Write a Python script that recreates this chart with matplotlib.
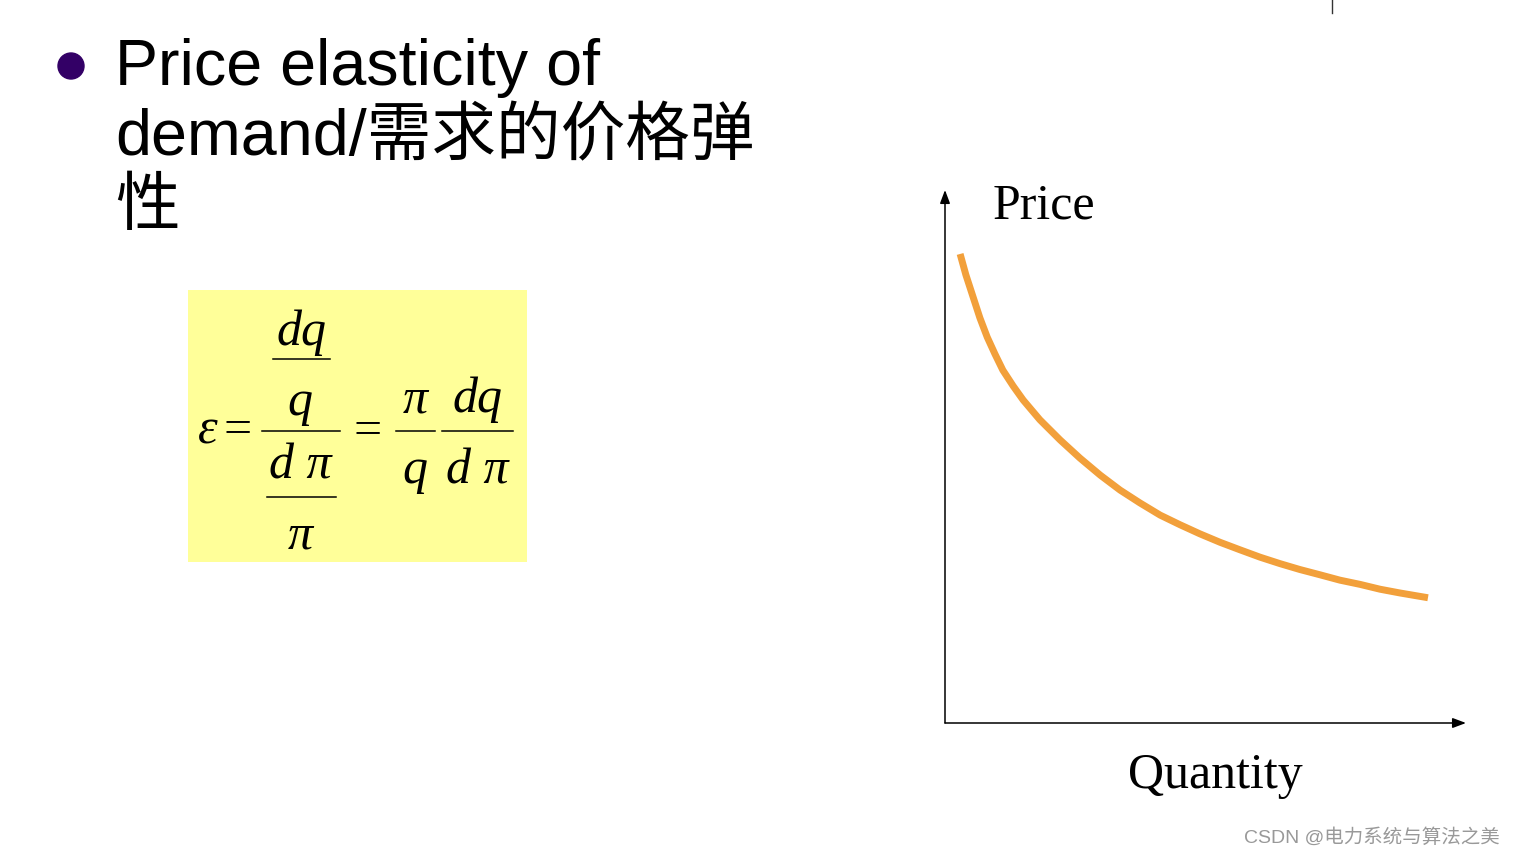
import matplotlib
matplotlib.use("Agg")
import matplotlib.pyplot as plt
from matplotlib.patches import Rectangle, Circle

# demand curve (quantity / price on a 0-100 scale)
quantity = [2.9, 4.0, 5.4, 6.7, 8.1, 9.6, 11.1, 13.1, 15.0, 18.2,
            22.1, 25.9, 29.8, 33.6, 37.4, 41.3, 45.1, 48.9, 52.8, 56.6,
            60.5, 64.3, 68.1, 72.0, 75.8, 79.7, 83.5, 87.3, 92.7]
price = [88.0, 84.1, 79.9, 76.0, 72.4, 69.2, 66.2, 63.2, 60.6, 56.9,
         53.1, 49.7, 46.5, 43.7, 41.3, 39.0, 37.2, 35.5, 33.9, 32.5,
         31.1, 29.9, 28.8, 27.8, 26.8, 26.0, 25.1, 24.4, 23.5]

title_lines = ["Price elasticity of", "demand/需求的价格弹", "性"]
x_label = "Quantity"
y_label = "Price"
watermark = "CSDN @电力系统与算法之美"

W, H = 1515, 855
fig = plt.figure(figsize=(W / 100, H / 100), dpi=100)
fig.patch.set_facecolor("white")

# overlay in pixel coordinates for the slide text
ov = fig.add_axes([0, 0, 1, 1])
ov.set_xlim(0, W)
ov.set_ylim(H, 0)
ov.axis("off")

sans = ["Liberation Sans", "Noto Sans CJK SC", "DejaVu Sans"]
serif = ["Liberation Serif", "DejaVu Serif"]

# bullet + title
ov.add_patch(Circle((71, 66), 13, color="#330066"))
for i, line in enumerate(title_lines):
    ov.text(115, 85 + 70 * i, line, fontsize=46.5, family=sans,
            va="baseline", ha="left", color="black")

# formula box
ov.add_patch(Rectangle((188, 290), 339, 272, color="#FFFF99", lw=0))


def term(x, y, s, ha="center", size=36, style="italic"):
    ov.text(x, y, s, fontsize=size, family=serif, style=style,
            ha=ha, va="baseline", color="black")


def bar(x0, x1, y):
    ov.plot([x0, x1], [y, y], color="black", lw=1.1)


term(198, 443, "ε", ha="left")
term(224, 443, "=", ha="left", style="normal")
bar(262, 340, 431)
term(301, 345, "dq")
bar(273, 330, 359)
term(300, 415, "q")
term(300, 478, "d π")
bar(267, 336, 497)
term(300, 548, "π")
term(354, 444, "=", ha="left", style="normal")
bar(396, 435, 431)
term(415, 412, "π")
term(415, 483, "q")
bar(442, 513, 431)
term(477, 412, "dq")
term(477, 483, "d π")

# demand diagram
x0, y0, x1, y1 = 945, 723, 1466, 190
ax = fig.add_axes([x0 / W, (H - y0) / H, (x1 - x0) / W, (y0 - y1) / H])
ax.set_xlim(0, 100)
ax.set_ylim(0, 100)
ax.axis("off")
ax.plot(quantity, price, color="#F2A03B", lw=5, solid_capstyle="butt",
        solid_joinstyle="round")
arrow = dict(arrowstyle="-|>,head_length=0.8,head_width=0.3",
             color="black", lw=1.1, mutation_scale=10, shrinkA=0, shrinkB=0)
ax.annotate("", xy=(0, 100), xytext=(0, 0), arrowprops=arrow,
            annotation_clip=False)
ax.annotate("", xy=(100, 0), xytext=(0, 0), arrowprops=arrow,
            annotation_clip=False)

ov.text(993, 218, y_label, fontsize=36, family=serif, va="baseline")
ov.text(1128, 788, x_label, fontsize=36, family=serif, va="baseline")

# stray mark at the top and the watermark
ov.plot([1332, 1332], [0, 13], color="#333333", lw=1)
ov.text(1500, 843, watermark, fontsize=14, family=sans, color="#999999",
        ha="right", va="baseline")

fig.savefig("out.png", dpi=100)
